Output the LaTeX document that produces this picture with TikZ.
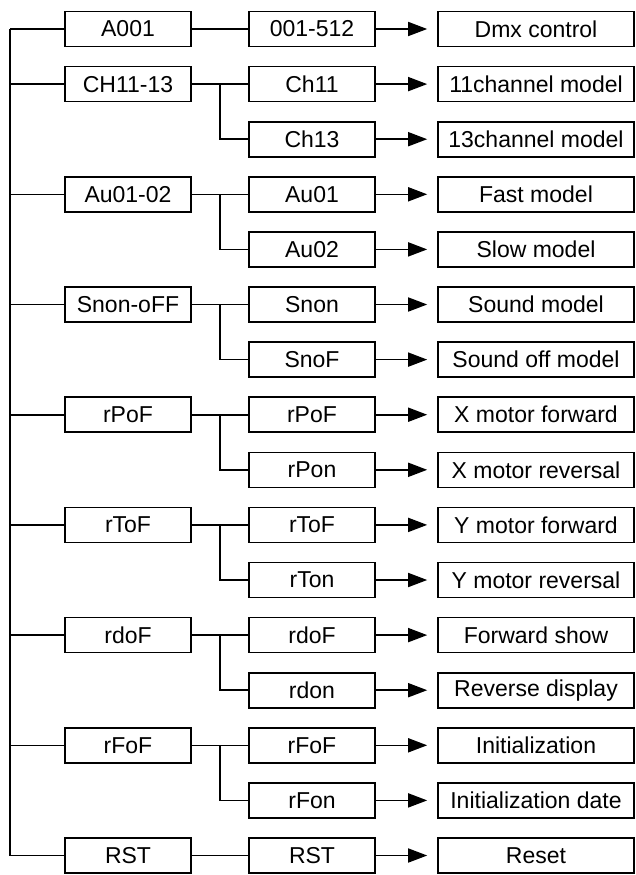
\documentclass[tikz,border=0pt]{standalone}
\usepackage{fontspec}
\setmainfont{Liberation Sans}
\usetikzlibrary{arrows.meta}
\begin{document}
\begin{tikzpicture}[x=1pt,y=-1pt,
  box/.style={draw,line width=1.6pt,minimum height=35pt,inner sep=0pt,font=\fontsize{23}{26}\selectfont},
  lbox/.style={box,minimum width=126pt},
  rbox/.style={box,minimum width=196pt},
  conn/.style={line width=1.6pt},
  arr/.style={line width=1.6pt,-{Triangle[length=19pt,width=14pt]},shorten >=10pt}]
\useasboundingbox (0,0) rectangle (636,875);
\foreach \i/\t/\u in {0/001-512/Dmx control,1/Ch11/11channel model,2/Ch13/13channel model,3/Au01/Fast model,4/Au02/Slow model,5/Snon/Sound model,6/SnoF/Sound off model,7/rPoF/X motor forward,8/rPon/X motor reversal,9/rToF/Y motor forward,10/rTon/Y motor reversal,11/rdoF/Forward show,12/rdon/Reverse display,13/rFoF/Initialization,14/rFon/Initialization date,15/RST/Reset}{
  \node[lbox] (m\i) at (312,{29+55.1*\i}) {\t};
  \node[rbox] (r\i) at (536,{29+55.1*\i}) {\u};
  \draw[arr] (m\i.east) -- (r\i.west);
}
\foreach \j/\t/\a/\b in {0/A001/0/0,1/CH11-13/1/2,2/Au01-02/3/4,3/Snon-oFF/5/6,4/rPoF/7/8,5/rToF/9/10,6/rdoF/11/12,7/rFoF/13/14,8/RST/15/15}{
  \node[lbox] (l\j) at (128,{29+55.1*\a}) {\t};
  \coordinate (k\j) at (220,{29+55.1*\a});
  \coordinate (s\j) at (10,{29+55.1*\a});
  \draw[conn] (l\j.east) -- (m\a.west);
  \draw[conn] (k\j) |- (m\b.west);
  \draw[conn] (s\j) -- (l\j.west);
}
\draw[conn] (s0) -- (s8);
\end{tikzpicture}
\end{document}
